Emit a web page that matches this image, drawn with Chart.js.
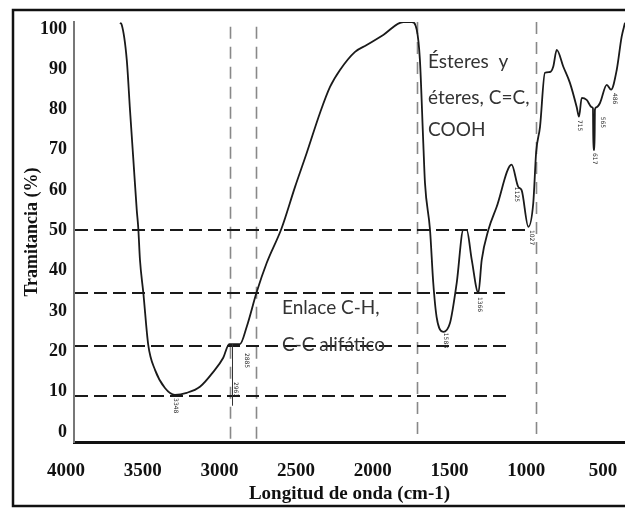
<!DOCTYPE html>
<html>
<head>
<meta charset="utf-8">
<script src="https://cdn.jsdelivr.net/npm/chart.js@4/dist/chart.umd.min.js"></script>
<style>
  html, body { margin: 0; padding: 0; background: #fff; }
  #wrap { width: 625px; height: 508px; position: relative; }
</style>
</head>
<body>
<div id="wrap"><canvas id="ir"></canvas></div>
<script>
// espectro IR
const wavenumber = [3713, 3702, 3669, 3648, 3626, 3604, 3594, 3583, 3561, 3529, 3485, 3420, 3355, 3278, 3192, 3105, 3040, 3001, 2975, 2931, 2887, 2822, 2757, 2659, 2572, 2496, 2409, 2344, 2279, 2181, 2105, 1997, 1866, 1812, 1779, 1758, 1736, 1725, 1692, 1671, 1649, 1606, 1562, 1518, 1475, 1453, 1420, 1377, 1355, 1312, 1258, 1160, 1117, 1095, 1051, 1019, 1000, 975, 943, 910, 889, 866, 823, 780, 736, 721, 703, 671, 638, 630, 627, 620, 617, 606, 584, 540, 512, 475, 443, 421];
const transmittance = [101.5, 101.0, 92.3, 79.9, 67.5, 55.1, 50.6, 42.7, 34.5, 21.6, 15.4, 10.9, 9.2, 9.7, 11.2, 14.9, 18.4, 21.8, 21.8, 21.8, 26.1, 34.7, 41.9, 50.6, 60.8, 69.2, 79.2, 85.6, 89.8, 94.3, 96.0, 98.5, 101.7, 101.7, 99.8, 92.3, 71.7, 61.8, 50.1, 37.0, 28.5, 24.8, 27.0, 37.0, 50.1, 50.1, 42.7, 34.5, 42.7, 50.1, 55.8, 66.3, 60.8, 60.0, 50.9, 56.8, 69.5, 75.7, 89.1, 89.3, 90.6, 94.8, 90.6, 86.6, 80.6, 78.2, 82.9, 82.4, 80.6, 80.3, 70.0, 70.0, 80.0, 80.6, 81.6, 86.1, 84.9, 89.8, 98.0, 101.5];

const xTicks = [4000, 3500, 3000, 2500, 2000, 1500, 1000, 500];
const yTicks = [0, 10, 20, 30, 40, 50, 60, 70, 80, 90, 100];

// lineas guia discontinuas
const guideLevels = [50.1, 34.5, 21.3, 8.9];
const guideEnds = [1040, 1203, 1171, 1158];
const bandLines = [2996, 2827, 1777, 1001];
const bandTops = [100.5, 100.5, 101.7, 101.7];

// textos
const notesEster = ['Ésteres  y', 'éteres, C=C,', 'COOH'];
const notesEsterPos = [1705, [91.8, 82.9, 74.9]];
const notesCH = ['Enlace C-H,', 'C-C alifático'];
const notesCHPos = [2657, [30.8, 21.6]];

// etiquetas pequeñas de picos
const peakWn = [3348, 2963, 2885, 1588, 1366, 1125, 1027, 715, 617, 565, 486];
const peakLabelTop = [8.4, 12.4, 19.6, 24.6, 33.5, 60.8, 50.1, 77.4, 69.2, 78.2, 84.1];
const peakLabels = ['3348', '2963', '2885', '1588', '1366', '1125', '1027', '715', '617', '565', '486'];

const points = wavenumber.map((w, i) => ({ x: w, y: transmittance[i] }));

const decor = {
  id: 'decor',
  beforeDatasetsDraw(chart) {
    const { ctx, scales: { x, y }, chartArea: a } = chart;
    ctx.save();
    ctx.strokeStyle = '#888';
    ctx.lineWidth = 1.6;
    ctx.setLineDash([12, 8]);
    bandLines.forEach((w, i) => {
      const px = Math.round(x.getPixelForValue(w)) + 0.5;
      ctx.beginPath();
      ctx.moveTo(px, y.getPixelForValue(bandTops[i]));
      ctx.lineTo(px, a.bottom);
      ctx.stroke();
    });
    ctx.strokeStyle = '#1a1a1a';
    ctx.lineWidth = 2;
    ctx.setLineDash([13, 6]);
    guideLevels.forEach((v, i) => {
      const py = Math.round(y.getPixelForValue(v));
      ctx.beginPath();
      ctx.moveTo(a.left + 1, py);
      ctx.lineTo(x.getPixelForValue(guideEnds[i]), py);
      ctx.stroke();
    });
    ctx.restore();
  },
  afterDatasetsDraw(chart) {
    const { ctx, scales: { x, y } } = chart;
    ctx.save();
    ctx.fillStyle = '#333';
    ctx.font = '19px Lato';
    ctx.textAlign = 'left';
    ctx.textBaseline = 'middle';
    notesEster.forEach((t, i) => {
      ctx.fillText(t, x.getPixelForValue(notesEsterPos[0]), y.getPixelForValue(notesEsterPos[1][i]));
    });
    notesCH.forEach((t, i) => {
      ctx.fillText(t, x.getPixelForValue(notesCHPos[0]), y.getPixelForValue(notesCHPos[1][i]));
    });
    // etiquetas de picos
    ctx.font = '6px "DejaVu Sans"';
    ctx.fillStyle = '#222';
    ctx.textAlign = 'left';
    peakWn.forEach((w, i) => {
      ctx.save();
      ctx.translate(x.getPixelForValue(w), y.getPixelForValue(peakLabelTop[i]));
      ctx.rotate(Math.PI / 2);
      ctx.fillText(peakLabels[i], 0, 0);
      ctx.restore();
    });
    ctx.strokeStyle = '#333';
    ctx.lineWidth = 1;
    const lx = Math.round(x.getPixelForValue(2963)) - 2.5;
    ctx.beginPath();
    ctx.moveTo(lx, y.getPixelForValue(21.8));
    ctx.lineTo(lx, y.getPixelForValue(6.5));
    ctx.stroke();
    ctx.restore();
  },
  afterDraw(chart) {
    const { ctx } = chart;
    ctx.save();
    ctx.strokeStyle = '#111';
    ctx.lineWidth = 2.5;
    ctx.strokeRect(13, 10, 700, 496);
    ctx.restore();
  }
};

new Chart(document.getElementById('ir'), {
  type: 'line',
  data: {
    datasets: [{
      data: points,
      borderColor: '#1a1a1a',
      borderWidth: 1.8,
      pointRadius: 0,
      cubicInterpolationMode: 'monotone',
      fill: false
    }]
  },
  plugins: [decor],
  options: {
    responsive: true,
    maintainAspectRatio: false,
    animation: false,
    devicePixelRatio: 1,
    layout: { padding: { left: 14, right: 0, top: 22, bottom: 2 } },
    plugins: { legend: { display: false }, tooltip: { enabled: false } },
    scales: {
      x: {
        type: 'linear',
        reverse: true,
        min: 421,
        max: 4013,
        afterBuildTicks: (s) => { s.ticks = xTicks.map(v => ({ value: v })); },
        afterFit: (s) => { s.height = 64; s.paddingLeft = 0; s.paddingRight = 0; },
        grid: { display: false, drawTicks: false },
        border: { display: true, color: '#111', width: 3 },
        ticks: {
          autoSkip: false,
          maxRotation: 0,
          padding: 18,
          labelOffset: -10,
          color: '#111',
          callback: (v) => String(v),
          font: { family: '"Liberation Serif", "Times New Roman", serif', size: 19, weight: 'bold' }
        },
        title: {
          display: true,
          text: 'Longitud de onda (cm-1)',
          color: '#111',
          padding: { top: 0, bottom: 1 },
          font: { family: '"Liberation Serif", "Times New Roman", serif', size: 19, weight: 'bold' }
        }
      },
      y: {
        min: -2.5,
        max: 101.7,
        afterBuildTicks: (s) => { s.ticks = yTicks.map(v => ({ value: v })); },
        afterFit: (s) => { s.width = 60; s.paddingTop = 0; s.paddingBottom = 0; },
        grid: { display: false, drawTicks: false },
        border: { display: true, color: '#777', width: 2 },
        ticks: {
          padding: 7,
          color: '#111',
          callback: (v) => String(v),
          font: { family: '"Liberation Serif", "Times New Roman", serif', size: 18, weight: 'bold' }
        },
        title: {
          display: true,
          text: 'Tramitancia (%)',
          color: '#111',
          padding: { top: 8, bottom: 0 },
          font: { family: '"Liberation Serif", "Times New Roman", serif', size: 18, weight: 'bold' }
        }
      }
    }
  }
});
</script>
</body>
</html>
